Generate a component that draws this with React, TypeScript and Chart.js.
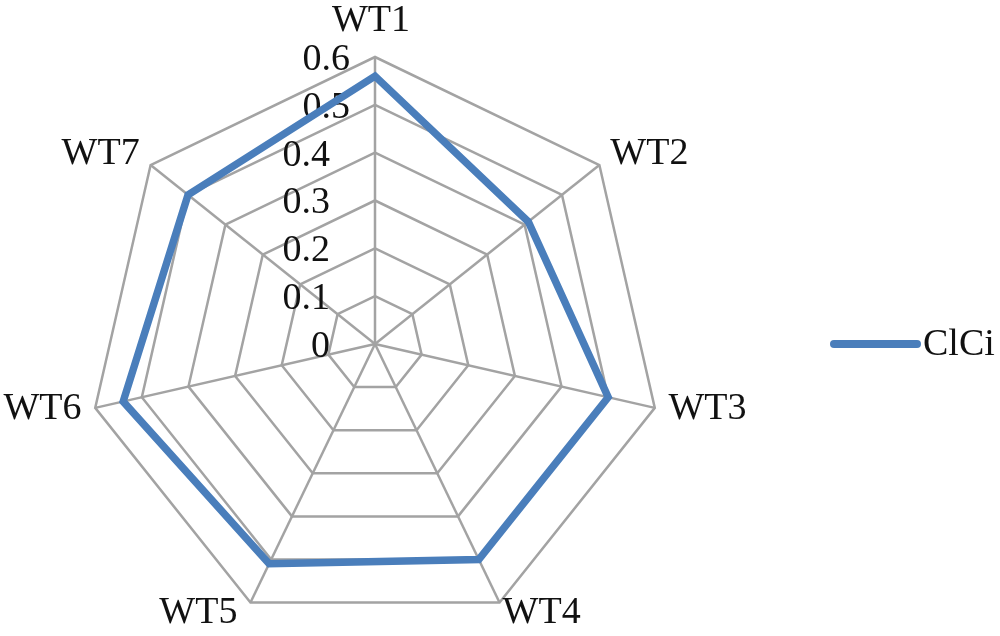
import React, { useEffect, useRef } from "react";
import { Chart, registerables } from "chart.js";

Chart.register(...registerables);

const categories = ["WT1", "WT2", "WT3", "WT4", "WT5", "WT6", "WT7"];
const values = [0.56, 0.41, 0.5, 0.5, 0.51, 0.54, 0.5];
const tickValues = [0, 0.1, 0.2, 0.3, 0.4, 0.5, 0.6];
const tickLabels = ["0", "0.1", "0.2", "0.3", "0.4", "0.5", "0.6"];
const seriesName = "ClCi";

const FONT = "38px 'Liberation Serif', 'Times New Roman', serif";
const TEXT = "#111111";
const GRID = "#a3a3a3";
const BLUE = "#4a7ebb";

const labelsPlugin = {
  id: "excelLabels",
  beforeDatasetsDraw(chart: any) {
    const ctx = chart.ctx;
    const r = chart.scales.r;
    ctx.save();
    ctx.font = FONT;
    ctx.fillStyle = TEXT;
    ctx.textAlign = "right";
    ctx.textBaseline = "middle";
    tickValues.forEach((v, i) => {
      const d = r.getDistanceFromCenterForValue(v);
      const off = v >= 0.45 ? 25 : 45;
      ctx.fillText(tickLabels[i], r.xCenter - off, r.yCenter - d + 3);
    });
    ctx.restore();
  },
  afterDraw(chart: any) {
    const ctx = chart.ctx;
    const r = chart.scales.r;
    ctx.save();
    ctx.font = FONT;
    ctx.fillStyle = TEXT;
    ctx.textBaseline = "middle";
    categories.forEach((c, i) => {
      if (i === 0) {
        const p = r.getPointPosition(i, r.drawingArea + 36);
        ctx.textAlign = "center";
        ctx.fillText(c, p.x - 4, p.y);
        return;
      }
      const p = r.getPointPosition(i, r.drawingArea + 14);
      const right = p.x > r.xCenter;
      ctx.textAlign = right ? "left" : "right";
      const bottom = p.y > r.yCenter + r.drawingArea * 0.7;
      const dx = bottom ? (right ? -3 : -7) : 0;
      ctx.fillText(c, p.x + dx, p.y - 2);
    });
    // legend
    const ly = r.yCenter;
    ctx.strokeStyle = BLUE;
    ctx.lineWidth = 8;
    ctx.lineCap = "round";
    ctx.beginPath();
    ctx.moveTo(834, ly);
    ctx.lineTo(917, ly);
    ctx.stroke();
    ctx.textAlign = "left";
    ctx.fillText(seriesName, 923, ly + 1);
    ctx.restore();
  },
};

export default function App() {
  const ref = useRef<HTMLCanvasElement>(null);
  useEffect(() => {
    if (!ref.current) return;
    const chart = new Chart(ref.current, {
      type: "radar",
      data: {
        labels: categories,
        datasets: [
          {
            label: seriesName,
            data: values,
            borderColor: BLUE,
            backgroundColor: "transparent",
            borderWidth: 7.5,
            fill: false,
            pointRadius: 0,
            tension: 0,
            borderJoinStyle: "miter",
          },
        ],
      },
      options: {
        animation: false,
        responsive: true,
        maintainAspectRatio: false,
        layout: { padding: { left: 88, right: 338, top: 57, bottom: 5 } },
        plugins: { legend: { display: false }, tooltip: { enabled: false } },
        scales: {
          r: {
            min: 0,
            max: 0.6,
            startAngle: 0,
            ticks: { display: false, stepSize: 0.1 },
            pointLabels: { display: false },
            grid: { color: GRID, lineWidth: 2.5, circular: false },
            angleLines: { color: GRID, lineWidth: 2.5 },
          },
        },
      },
      plugins: [labelsPlugin],
    });
    return () => chart.destroy();
  }, []);
  return (
    <div style={{ position: "absolute", left: 0, top: 0, width: 1000, height: 636, background: "#fff" }}>
      <canvas ref={ref} />
    </div>
  );
}
